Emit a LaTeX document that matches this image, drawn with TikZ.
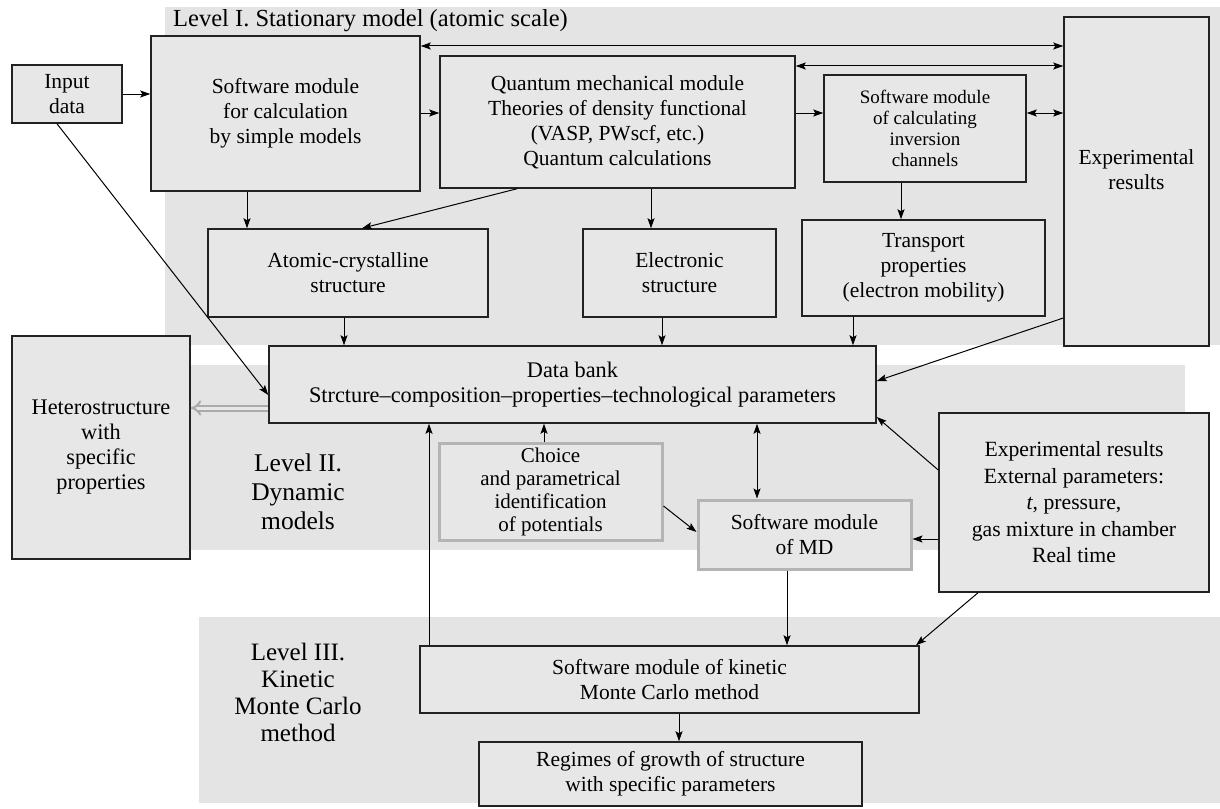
\documentclass[tikz,border=0pt]{standalone}
\usepackage{fontspec}
\setmainfont{Liberation Serif}
\usetikzlibrary{arrows.meta}
\definecolor{bg}{HTML}{E4E4E4}
\definecolor{boxfill}{HTML}{E7E7E7}
\definecolor{edge}{HTML}{222222}
\definecolor{softedge}{HTML}{B4B4B4}
\definecolor{arrowgray}{HTML}{AAAAAA}
\begin{document}
\begin{tikzpicture}[x=1pt,y=-1pt,
  box/.style={draw=edge, line width=1.5pt, fill=boxfill, inner sep=0pt, align=center, font=\fontsize{21.5}{25}\selectfont},
  softbox/.style={box, draw=softedge, line width=3pt},
  smallbox/.style={box, font=\fontsize{19}{21}\selectfont},
  txt/.style={inner sep=0pt, align=center, font=\fontsize{21.5}{25}\selectfont},
  lvl/.style={inner sep=0pt, align=center, font=\fontsize{25.5}{29}\selectfont},
  conn/.style={line width=1pt, draw=black, -{Stealth[length=10pt,width=7pt,inset=2pt]}},
  dconn/.style={line width=1pt, draw=black, {Stealth[length=10pt,width=7pt,inset=2pt]}-{Stealth[length=10pt,width=7pt,inset=2pt]}},
  hollow/.style={draw=arrowgray, line width=2pt, double=boxfill, double distance=3pt, -{Implies[length=9pt]}},
]
\useasboundingbox (0,0) rectangle (1220,808);
% level regions
\fill[bg] (165,7) rectangle (1220,345);
\fill[bg] (165,365) rectangle (1185,550);
\fill[bg] (199,617) rectangle (1220,803);
\node[lvl, anchor=west, font=\fontsize{24.5}{29}\selectfont] (lvlone) at (173,21) {Level I. Stationary model (atomic scale)};
\node[lvl] (lvltwo) at (298,492) {Level II.\\Dynamic\\models};
\node[lvl, font=\fontsize{25}{27}\selectfont] (lvlthree) at (298,692) {Level III.\\Kinetic\\Monte Carlo\\method};
% boxes
\node[box, minimum width=110pt, minimum height=58pt] (input) at (67,94) {Input\\data};
\node[box, minimum width=269pt, minimum height=155pt] (simple) at (285.5,113.5) {Software module\\for calculation\\by simple models};
\node[box, minimum width=355pt, minimum height=132pt] (quantum) at (617.5,122) {Quantum mechanical module\\Theories of density functional\\(VASP, PWscf, etc.)\\Quantum calculations};
\node[smallbox, minimum width=202pt, minimum height=107pt] (inversion) at (925,128.5) {Software module\\of calculating\\inversion\\channels};
\node[box, minimum width=145pt, minimum height=329pt] (exptop) at (1136.5,181.5) {};
\node[txt] (exptoptxt) at (1136.5,170) {Experimental\\results};
\node[box, minimum width=280pt, minimum height=88pt] (atomic) at (348,273) {Atomic-crystalline\\structure};
\node[box, minimum width=193pt, minimum height=88pt] (electronic) at (679.5,273) {Electronic\\structure};
\node[box, minimum width=243pt, minimum height=96pt] (transport) at (923.5,268) {Transport\\properties\\(electron mobility)};
\node[box, minimum width=607pt, minimum height=77pt, font=\fontsize{22.3}{25}\selectfont] (databank) at (572.5,384.5) {Data bank\\Strcture--composition--properties--technological parameters};
\node[box, minimum width=178pt, minimum height=223pt, font=\fontsize{22.3}{25}\selectfont] (hetero) at (101,447.5) {Heterostructure\\with\\specific\\properties};
\node[softbox, minimum width=223pt, minimum height=97pt, font=\fontsize{21}{23}\selectfont] (choice) at (550.5,491.5) {Choice\\and parametrical\\identification\\of potentials};
\node[softbox, minimum width=213pt, minimum height=69pt] (md) at (804.5,534.5) {Software module\\of MD};
\node[box, minimum width=270pt, minimum height=179pt, font=\fontsize{21.7}{26.5}\selectfont] (ext) at (1074,502.5) {Experimental results\\External parameters:\\\textit{t}, pressure,\\gas mixture in chamber\\Real time};
\node[box, minimum width=499pt, minimum height=67pt] (kinetic) at (669.5,679.5) {Software module of kinetic\\Monte Carlo method};
\node[box, minimum width=383pt, minimum height=64pt] (regimes) at (670.5,774) {Regimes of growth of structure\\with specific parameters};
% connectors
\draw[conn] (input.east |- 0,94) -- (simple.west |- 0,94);
\draw[dconn] (simple.east |- 0,46) -- (exptop.west |- 0,46);
\draw[dconn] (quantum.east |- 0,66) -- (exptop.west |- 0,66);
\draw[conn] (simple.east |- 0,113) -- (quantum.west |- 0,113);
\draw[conn] (quantum.east |- 0,113) -- (inversion.west |- 0,113);
\draw[dconn] (inversion.east |- 0,113) -- (exptop.west |- 0,113);
\draw[conn] (simple.south -| 247,0) -- (atomic.north -| 247,0);
\draw[conn] (quantum.south -| 517,0) -- (atomic.north -| 362,0);
\draw[conn] (quantum.south -| 651,0) -- (electronic.north -| 651,0);
\draw[conn] (inversion.south -| 901,0) -- (transport.north -| 901,0);
\draw[conn] (atomic.south -| 344,0) -- (databank.north -| 344,0);
\draw[conn] (electronic.south -| 662,0) -- (databank.north -| 662,0);
\draw[conn] (transport.south -| 853,0) -- (databank.north -| 853,0);
\draw[conn] (input.south -| 57,0) -- (databank.west |- 0,395);
\draw[hollow] (databank.west |- 0,408) -- (hetero.east |- 0,408);
\draw[conn] (exptop.west |- 0,318) -- (databank.east |- 0,381);
\draw[conn] (kinetic.north -| 429,0) -- (databank.south -| 429,0);
\draw[conn] (choice.north -| 544,0) -- (databank.south -| 544,0);
\draw[dconn] (databank.south -| 757,0) -- (md.north -| 757,0);
\draw[conn] (choice.east |- 0,506) -- (md.west |- 0,532);
\draw[conn] (ext.west |- 0,539) -- (md.east |- 0,539);
\draw[conn] (ext.west |- 0,470) -- (databank.east |- 0,417);
\draw[conn] (md.south -| 787,0) -- (kinetic.north -| 787,0);
\draw[conn] (ext.south -| 978,0) -- (kinetic.north -| 916,0);
\draw[conn] (kinetic.south -| 679,0) -- (regimes.north -| 679,0);
\end{tikzpicture}
\end{document}
